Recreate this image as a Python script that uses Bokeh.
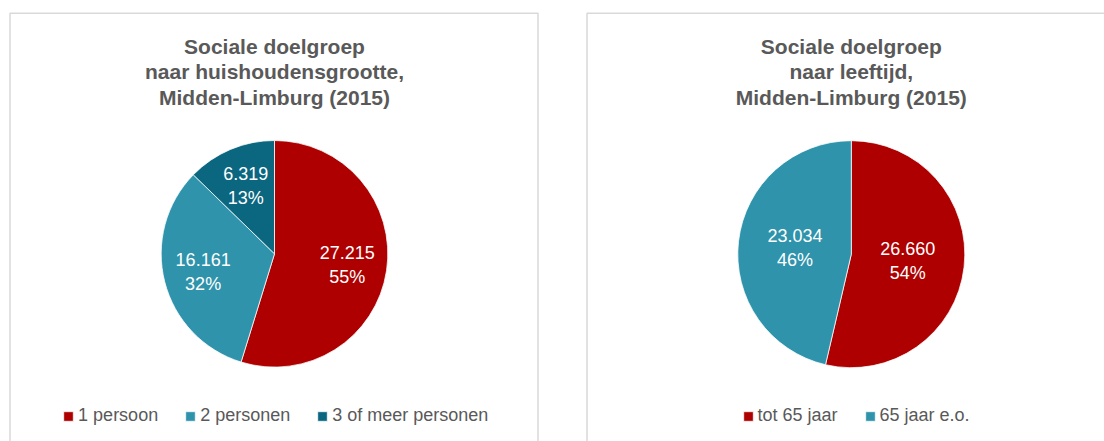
import numpy as np
from bokeh.plotting import figure
from bokeh.models import ColumnDataSource, Range1d, Legend, LegendItem
from bokeh.core.properties import value
from bokeh.embed import file_html
from bokeh.resources import INLINE

# ---- data ----
title_left = ["Sociale doelgroep", "naar huishoudensgrootte,", "Midden-Limburg (2015)"]
cats_left = ["1 persoon", "2 personen", "3 of meer personen"]
vals_left = [27215, 16161, 6319]

title_right = ["Sociale doelgroep", "naar leeftijd,", "Midden-Limburg (2015)"]
cats_right = ["tot 65 jaar", "65 jaar e.o."]
vals_right = [26660, 23034]

colors_left = ["#AE0000", "#2E93AB", "#0B6680"]
colors_right = ["#AE0000", "#2E93AB"]

FONT = "Liberation Sans"
GRAY = "#595959"

W, H = 1104, 441
p = figure(width=W, height=H, x_range=Range1d(0, W), y_range=Range1d(0, H),
           output_backend="svg", toolbar_location=None,
           x_axis_type=None, y_axis_type=None, min_border=0)
p.grid.visible = False
p.outline_line_color = None
p.background_fill_color = "white"
p.border_fill_color = "white"


def py(page_y):
    return H - page_y


def px(page_x):
    return page_x


# panel borders
p.quad(left=[px(9.5), px(586.5)], right=[px(537.5), px(1130)],
       top=[py(12.75), py(12.75)], bottom=[-30, -30],
       fill_color=None, line_color="#D9D9D9", line_width=1.5)


def pct_round(vals):
    vals = np.array(vals, dtype=float)
    raw = vals / vals.sum() * 100
    fl = np.floor(raw).astype(int)
    rem = raw - fl
    need = 100 - fl.sum()
    order = np.argsort(-rem)
    for i in order[:need]:
        fl[i] += 1
    return fl


def fmt(v):
    return f"{v:,}".replace(",", ".")


def draw_pie(cats, vals, colors, cx, cy, r, lab_f, title, legend_x):
    vals_a = np.array(vals, dtype=float)
    frac = vals_a / vals_a.sum()
    cum = np.concatenate([[0], np.cumsum(frac)])
    start = np.pi / 2 - cum[:-1] * 2 * np.pi
    end = np.pi / 2 - cum[1:] * 2 * np.pi
    mid = (start + end) / 2
    pcts = pct_round(vals)
    src = ColumnDataSource(dict(
        cat=cats, val=vals, color=colors, start=start, end=end,
        lx=cx + lab_f * r * np.cos(mid), ly=cy + lab_f * r * np.sin(mid),
        lab=[f"{fmt(v)}\n{pc}%" for v, pc in zip(vals, pcts)],
    ))
    wr = p.wedge(x=cx, y=cy, radius=r, start_angle="start", end_angle="end",
                 direction="clock", fill_color="color", line_color="white",
                 line_width=0.75, source=src)
    p.text(x="lx", y="ly", text="lab", source=src, text_color="white",
           text_font=value(FONT), text_font_size="18px", text_align="center",
           text_baseline="middle", text_line_height=1.2)
    tsrc = ColumnDataSource(dict(x=[cx] * len(title),
                                 y=[py(46 + 25.3 * i) for i in range(len(title))],
                                 t=title))
    p.text(x="x", y="y", text="t", source=tsrc, text_color=GRAY,
           text_font=value(FONT), text_font_size="21px", text_font_style="bold",
           text_align="center", text_baseline="middle")
    items = [LegendItem(label=c, renderers=[wr], index=i) for i, c in enumerate(cats)]
    leg = Legend(items=items, orientation="horizontal", location=(legend_x, 15),
                 glyph_width=12, glyph_height=12, label_standoff=4, spacing=26,
                 padding=0, margin=0, border_line_color=None,
                 background_fill_alpha=0, label_text_font=FONT,
                 label_text_font_size="18px", label_text_color=GRAY)
    p.add_layout(leg)


draw_pie(cats_left, vals_left, colors_left, px(274), py(253.3), 113.3, 0.65,
         title_left, px(62.1))
draw_pie(cats_right, vals_right, colors_right, px(850.8), py(253.7), 113.5, 0.5,
         title_right, px(741.5))

open("out.html", "w").write(file_html(p, INLINE))
